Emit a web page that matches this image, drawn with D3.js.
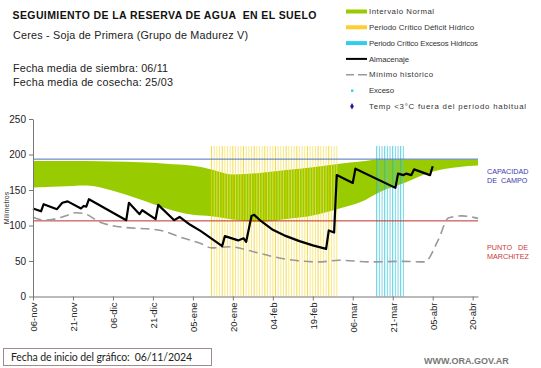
<!DOCTYPE html>
<html>
<head>
<meta charset="utf-8">
<script src="https://cdn.jsdelivr.net/npm/d3@7"></script>
<style>
  body { margin: 0; background: #fff; }
  svg { display: block; font-family: "Liberation Sans", Arial, sans-serif; }
  text { white-space: pre; }
</style>
</head>
<body>
<div id="chart"></div>
<script>
// days counted from the chart start date (06/11/2024)
const START = new Date(2024, 10, 6);
const END_DAY = 167;

const TICK_DAYS = [0, 15, 30, 45, 60, 75, 90, 105, 120, 135, 150, 165];
const TICK_LABELS = ['06-nov', '21-nov', '06-dic', '21-dic', '05-ene', '20-ene',
  '04-feb', '19-feb', '06-mar', '21-mar', '05-abr', '20-abr'];
const Y_TICKS = [0, 50, 100, 150, 200, 250];

const CAPACIDAD = 193.5;
const MARCHITEZ = 106.5;

// Intervalo normal (banda verde)
const NORMAL_DAYS = [0, 10, 20, 30, 40, 50, 60, 67, 75, 85, 95, 105, 115, 123, 130, 140, 150, 160, 167];
const NORMAL_TOP  = [191, 191, 191, 190, 189, 187, 184, 179, 172, 174, 178, 182, 187, 190, 193, 193, 193, 193, 193];
const NORMAL_LOW  = [153.5, 155, 156.5, 149, 137, 124, 115, 113, 108.5, 105, 109, 114, 124, 133, 147, 161, 176, 182.5, 184.5];

// Almacenaje
const ALM_DAYS = [0, 3, 4, 9, 11, 13, 18, 19, 20, 21, 35, 36, 40, 41, 46, 47, 53, 55, 59, 63,
  71, 72, 77, 79, 80, 82, 83, 85, 90, 95, 100, 105, 110, 111, 113, 114, 120, 121,
  136, 137, 139, 140, 142, 143, 149, 150];
const ALM_VALUES = [124, 120, 130, 123, 132, 134, 124, 127.5, 126.5, 137, 107.5, 132, 116, 121.5, 109, 129, 107.5, 112, 101, 92,
  71, 85, 79, 82, 77, 113.5, 115, 108, 94, 85, 78, 72, 67, 93, 90, 171, 160, 180,
  153, 173, 171, 173, 171, 179, 171, 183.5];

// Mínimo histórico
const MIN_DAYS = [0, 4, 8, 13, 16, 19, 25, 35, 44, 48, 55, 63, 67, 74, 82, 89, 96, 107, 115, 127, 139, 147, 152, 156, 161, 167];
const MIN_VALUES = [112, 107.5, 109, 114.5, 118, 117, 105, 97, 95, 93, 84, 74.6, 68.5, 70, 63.8, 57, 52, 48.7, 51, 48.7, 49.5, 48.7, 79, 111, 113.5, 110];

// Periodos críticos (barras diarias)
const DEFICIT_DAYS = d3.range(67, 115);
const EXCESO_DAYS = d3.range(129, 140);
const PERIOD_HEIGHT = 212;

const LEGEND = [
  { label: 'Intervalo Normal', kind: 'bar', color: '#99cc00', w: 65 },
  { label: 'Periodo Crítico Déficit Hídrico', kind: 'bar', color: '#ffcc33', w: 105 },
  { label: 'Periodo Crítico Excesos Hídricos', kind: 'bar', color: '#33ccee', w: 109 },
  { label: 'Almacenaje', kind: 'line', color: '#000', w: 40 },
  { label: 'Mínimo histórico', kind: 'dash', color: '#999', w: 64 },
  { label: 'Exceso', kind: 'dot', color: '#33ccee', w: 25 },
  { label: 'Temp <3°C fuera del período habitual', kind: 'diamond', color: '#1a1aa8', w: 157 },
];

const W = 541, H = 368;
const svg = d3.select('#chart').append('svg').attr('width', W).attr('height', H);

const day = d => d3.timeDay.offset(START, d);
const x = d3.scaleTime().domain([day(0), day(END_DAY)]).range([33, 478]);
const y = d3.scaleLinear().domain([0, 250]).range([296.5, 119]);

// green band
const area = d3.area()
  .x((d, i) => x(day(NORMAL_DAYS[i])))
  .y0((d, i) => y(NORMAL_LOW[i]))
  .y1((d, i) => y(NORMAL_TOP[i]))
  .curve(d3.curveMonotoneX);
svg.append('path').datum(NORMAL_DAYS).attr('d', area).attr('fill', '#99cc00');

// critical periods
svg.append('g').selectAll('line').data(DEFICIT_DAYS).join('line')
  .attr('x1', d => x(day(d))).attr('x2', d => x(day(d)))
  .attr('y1', y(0)).attr('y2', y(PERIOD_HEIGHT))
  .attr('stroke', (d, i) => i % 4 === 0 ? '#f2d000' : '#f8e25a')
  .attr('stroke-opacity', 0.75)
  .attr('stroke-width', 1);
svg.append('g').selectAll('line').data(EXCESO_DAYS).join('line')
  .attr('x1', d => x(day(d))).attr('x2', d => x(day(d)))
  .attr('y1', y(0)).attr('y2', y(PERIOD_HEIGHT))
  .attr('stroke', (d, i) => i % 3 === 0 ? '#1fb5d0' : '#44cce4')
  .attr('stroke-opacity', 0.75)
  .attr('stroke-width', 1);

// reference lines
svg.append('line').attr('x1', x.range()[0]).attr('x2', x.range()[1])
  .attr('y1', y(CAPACIDAD)).attr('y2', y(CAPACIDAD))
  .attr('stroke', '#4f72c0').attr('stroke-width', 1);
svg.append('line').attr('x1', x.range()[0]).attr('x2', x.range()[1])
  .attr('y1', y(MARCHITEZ)).attr('y2', y(MARCHITEZ))
  .attr('stroke', '#c0302a').attr('stroke-width', 1);

// minimo historico
const minLine = d3.line()
  .x((d, i) => x(day(MIN_DAYS[i])))
  .y((d, i) => y(MIN_VALUES[i]))
  .curve(d3.curveMonotoneX);
svg.append('path').datum(MIN_DAYS).attr('d', minLine)
  .attr('fill', 'none').attr('stroke', '#999').attr('stroke-width', 1.6)
  .attr('stroke-dasharray', '9,5');

// almacenaje
const almLine = d3.line()
  .x((d, i) => x(day(ALM_DAYS[i])))
  .y((d, i) => y(ALM_VALUES[i]));
svg.append('path').datum(ALM_DAYS).attr('d', almLine)
  .attr('fill', 'none').attr('stroke', '#000').attr('stroke-width', 2.2)
  .attr('stroke-linejoin', 'round');

// axes
const xAxis = d3.axisBottom(x)
  .tickValues(TICK_DAYS.map(day))
  .tickFormat((d, i) => TICK_LABELS[i])
  .tickSize(4).tickSizeOuter(0);
const gx = svg.append('g').attr('transform', `translate(0,${y(0)})`).call(xAxis);
gx.selectAll('text')
  .attr('transform', 'rotate(-90)')
  .attr('text-anchor', 'end')
  .attr('x', -6).attr('y', 0).attr('dy', '0.35em')
  .attr('font-size', '9.5px').attr('fill', '#222')
  .attr('font-family', '"Liberation Sans", Arial, sans-serif');

const yAxis = d3.axisLeft(y).tickValues(Y_TICKS).tickSize(4).tickSizeOuter(0).tickPadding(3);
const gy = svg.append('g').attr('transform', `translate(${x.range()[0]},0)`).call(yAxis);
gy.selectAll('text').attr('font-size', '10px').attr('fill', '#222')
  .attr('font-family', '"Liberation Sans", Arial, sans-serif');
svg.selectAll('.domain, .tick line').attr('stroke', '#777');

svg.append('text')
  .attr('transform', `translate(9,208) rotate(-90)`)
  .attr('text-anchor', 'middle').attr('font-size', '7px').attr('fill', '#333')
  .text('Milímetros');

// right labels
const rightLabels = [
  { t: 'CAPACIDAD', yy: 173.5, c: '#3b3bb0' }, { t: 'DE  CAMPO', yy: 182.5, c: '#3b3bb0' },
  { t: 'PUNTO   DE', yy: 249.5, c: '#c83a3a' }, { t: 'MARCHITEZ', yy: 258.5, c: '#c83a3a' },
];
svg.selectAll('.rl').data(rightLabels).join('text')
  .attr('x', 487).attr('y', d => d.yy)
  .attr('font-size', '7.2px').attr('fill', d => d.c)
  .text(d => d.t);

// titles
const headers = [
  { t: 'SEGUIMIENTO DE LA RESERVA DE AGUA  EN EL SUELO', x: 12.5, y: 19, size: 10.5, bold: true, w: 304 },
  { t: 'Ceres - Soja de Primera (Grupo de Madurez V)', x: 13, y: 38.5, size: 10.8, w: 235 },
  { t: 'Fecha media de siembra: 06/11', x: 13, y: 72, size: 10.8, w: 155 },
  { t: 'Fecha media de cosecha: 25/03', x: 13, y: 85.5, size: 10.8, w: 160 },
];
svg.selectAll('.hd').data(headers).join('text')
  .attr('x', d => d.x).attr('y', d => d.y)
  .attr('font-size', d => d.size + 'px')
  .attr('font-weight', d => d.bold ? 'bold' : 'normal')
  .attr('fill', d => d.bold ? '#111' : '#222')
  .attr('textLength', d => d.w).attr('lengthAdjust', 'spacing')
  .text(d => d.t);

// legend
const lg = svg.append('g').selectAll('g').data(LEGEND).join('g')
  .attr('transform', (d, i) => `translate(346,${11.5 + i * 15.8})`);
lg.each(function (d) {
  const g = d3.select(this);
  if (d.kind === 'bar') g.append('rect').attr('x', 0).attr('y', -2).attr('width', 21).attr('height', 4).attr('fill', d.color);
  if (d.kind === 'line') g.append('line').attr('x1', 0).attr('x2', 21).attr('stroke', d.color).attr('stroke-width', 2);
  if (d.kind === 'dash') g.append('line').attr('x1', 0).attr('x2', 21).attr('stroke', d.color).attr('stroke-width', 1.5).attr('stroke-dasharray', '8,4,5,0');
  if (d.kind === 'dot') g.append('rect').attr('x', 5).attr('y', -1).attr('width', 2.4).attr('height', 2.4).attr('fill', d.color);
  if (d.kind === 'diamond') g.append('path').attr('d', d3.symbol(d3.symbolDiamond, 12)()).attr('transform', 'translate(6,0)').attr('fill', d.color);
});
lg.append('text')
  .attr('x', 23)
  .attr('y', 0).attr('dy', '0.35em')
  .attr('font-size', '7.8px').attr('fill', '#333')
  .attr('textLength', d => d.w).attr('lengthAdjust', 'spacing')
  .text(d => d.label);

// footer
svg.append('rect').attr('x', 3.5).attr('y', 348.5).attr('width', 208).attr('height', 17)
  .attr('fill', '#fff').attr('stroke', '#a08a8c').attr('stroke-width', 1);
svg.append('text').attr('x', 11).attr('y', 361)
  .attr('font-family', 'Lato, "Open Sans", sans-serif')
  .attr('font-size', '10.5px').attr('fill', '#222')
  .attr('textLength', 181).attr('lengthAdjust', 'spacing')
  .text('Fecha de inicio del gráfico:  06/11/2024');
svg.append('text').attr('x', 424).attr('y', 363.5)
  .attr('font-size', '9px').attr('font-weight', 'bold').attr('fill', '#777')
  .text('WWW.ORA.GOV.AR');
</script>
</body>
</html>
